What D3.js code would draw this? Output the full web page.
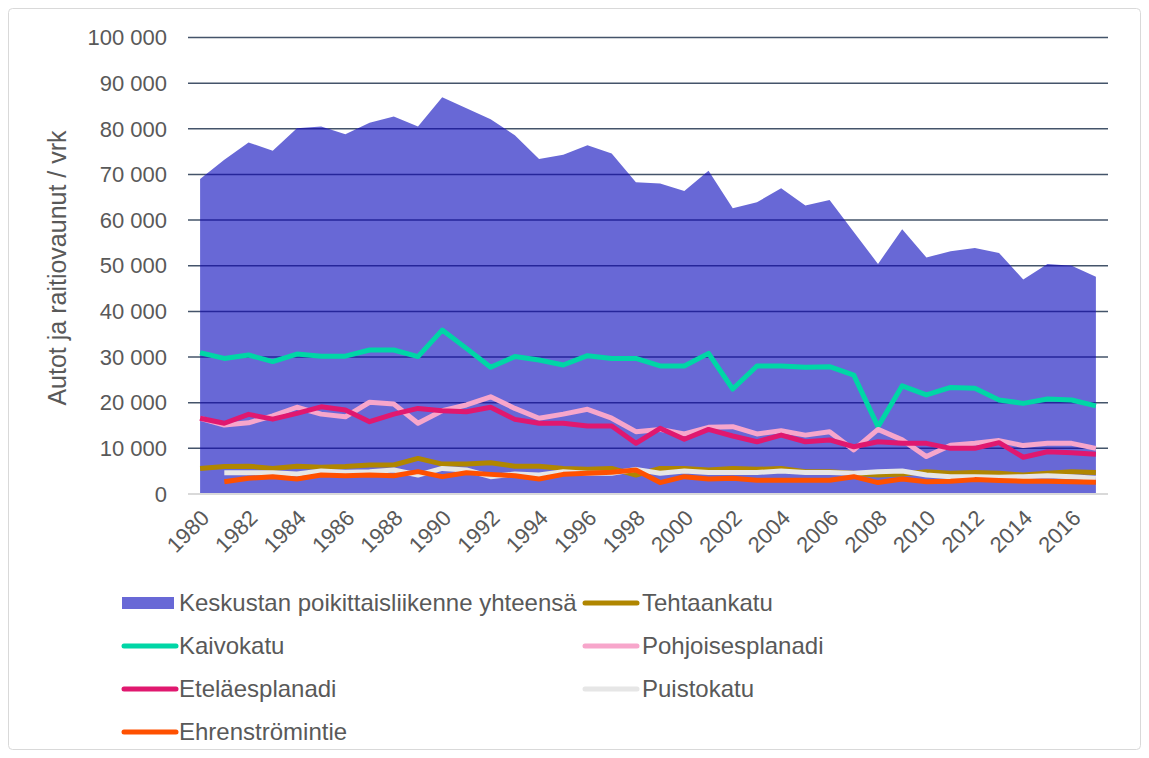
<!DOCTYPE html>
<html>
<head>
<meta charset="utf-8">
<script src="https://cdn.jsdelivr.net/npm/d3@7"></script>
<style>
  body { margin: 0; background: #fff; }
  svg { display: block; font-family: "Liberation Sans", Arial, sans-serif; }
</style>
</head>
<body>
<svg id="chart" width="1149" height="758"></svg>
<script>
// Vuodet (kategoriat)
const years = d3.range(1980, 2018);
const xTickYears = years.filter(y => y % 2 === 0);
const yTicks = [0, 10000, 20000, 30000, 40000, 50000, 60000, 70000, 80000, 90000, 100000];

// Keskustan poikittaisliikenne yhteensä (alue)
const total = [69000, 73200, 77000, 75200, 80100, 80500, 78800, 81300, 82700, 80500,
  86900, 84500, 82100, 78600, 73400, 74300, 76400, 74600, 68300, 68000,
  66400, 70800, 62600, 63900, 67000, 63200, 64400, 57400, 50400, 58000,
  51800, 53200, 53900, 52800, 47000, 50400, 50000, 47600];

const tehtaankatu = [5600, 6000, 6100, 5600, 6100, 5850, 6000, 6350, 6350, 7800,
  6550, 6550, 6850, 6100, 6100, 5600, 5400, 5600, 4150, 5600,
  5600, 5250, 5600, 5400, 5600, 4900, 4900, 4550, 4150, 4400,
  4900, 4550, 4700, 4550, 4150, 4550, 4900, 4700];

const kaivokatu = [30950, 29700, 30450, 29000, 30650, 30200, 30200, 31550, 31550, 30100,
  35900, 31900, 27750, 30100, 29350, 28250, 30300, 29700, 29700, 28050,
  28050, 30800, 23000, 28050, 28050, 27750, 27900, 26050, 14750, 23700,
  21700, 23350, 23150, 20600, 19850, 20800, 20600, 19300];

const pohjoisesplanadi = [16600, 15100, 15600, 17100, 19000, 17500, 16900, 20100, 19700, 15500,
  18250, 19500, 21300, 18750, 16600, 17500, 18550, 16600, 13650, 14150,
  13150, 14600, 14750, 13150, 13850, 12900, 13650, 9650, 14150, 11850,
  8200, 10700, 11100, 11700, 10600, 11100, 11100, 10000];

const etelaesplanadi = [16600, 15500, 17450, 16400, 17650, 19100, 18400, 15850, 17500, 18750,
  18250, 18000, 19000, 16350, 15500, 15500, 14900, 14900, 11100, 14400,
  12000, 14150, 12700, 11450, 12900, 11450, 11850, 10350, 11450, 11100,
  11100, 10000, 10000, 11250, 8050, 9250, 9050, 8700];

const puistokatu = [null, 4650, 4650, 4650, 4400, 5050, 4750, 4900, 5250, 4150,
  5600, 5250, 3800, 4400, 4150, 4900, 4550, 4550, 5400, 4550,
  5050, 4700, 4700, 4700, 5050, 4700, 4700, 4550, 4900, 5050,
  4150, 3800, 3800, 3650, 3800, 4000, 3800, 3450];

const ehrenstromintie = [null, 2700, 3450, 3800, 3300, 4150, 4000, 4150, 4000, 4900,
  3800, 4650, 4300, 4000, 3300, 4300, 4550, 4750, 5250, 2500,
  3800, 3300, 3450, 3000, 3000, 3000, 3000, 3800, 2500, 3300,
  2700, 2800, 3150, 2950, 2800, 2800, 2700, 2600];

const lines = [
  { name: "Tehtaankatu", values: tehtaankatu, color: "#b08600" },
  { name: "Kaivokatu", values: kaivokatu, color: "#00d6a6" },
  { name: "Pohjoisesplanadi", values: pohjoisesplanadi, color: "#f7a6cb" },
  { name: "Eteläesplanadi", values: etelaesplanadi, color: "#e0186f" },
  { name: "Puistokatu", values: puistokatu, color: "#e6e6e6" },
  { name: "Ehrenströmintie", values: ehrenstromintie, color: "#ff5000" }
];
const areaColor = "#6868d6";
const textColor = "#595959";

const svg = d3.select("#chart");

// ulkoreunus
svg.append("rect")
  .attr("x", 8.5).attr("y", 8.5)
  .attr("width", 1132).attr("height", 741)
  .attr("rx", 4)
  .attr("fill", "#fff")
  .attr("stroke", "#d9d9d9");

const x = d3.scalePoint().domain(years).range([188, 1108]).padding(0.5);
const y = d3.scaleLinear().domain([0, 100000]).range([494, 37.5]);

const area = d3.area()
  .x((d, i) => x(years[i]))
  .y0(y(0))
  .y1(d => y(d));

// ruudukko alueen alla
const grid = svg.append("g");
grid.selectAll("line")
  .data(yTicks.slice(1))
  .join("line")
  .attr("x1", 188).attr("x2", 1108)
  .attr("y1", d => y(d)).attr("y2", d => y(d))
  .attr("stroke", "#44546a")
  .attr("stroke-width", 1.5);

svg.append("clipPath").attr("id", "areaClip")
  .append("path").attr("d", area(total));

svg.append("path")
  .attr("d", area(total))
  .attr("fill", areaColor);

// ruudukko alueen päällä (tummempi sininen)
svg.append("g")
  .attr("clip-path", "url(#areaClip)")
  .selectAll("line")
  .data(yTicks.slice(1))
  .join("line")
  .attr("x1", 188).attr("x2", 1108)
  .attr("y1", d => y(d)).attr("y2", d => y(d))
  .attr("stroke", "#25259a")
  .attr("stroke-width", 1.5);

// x-akselin viiva
svg.append("line")
  .attr("x1", 188).attr("x2", 1108)
  .attr("y1", y(0)).attr("y2", y(0))
  .attr("stroke", "#d9d9d9")
  .attr("stroke-width", 2);

const line = d3.line()
  .defined(d => d != null)
  .x((d, i) => x(years[i]))
  .y(d => y(d));

svg.append("g")
  .selectAll("path")
  .data(lines)
  .join("path")
  .attr("d", d => line(d.values))
  .attr("fill", "none")
  .attr("stroke", d => d.color)
  .attr("stroke-width", 5)
  .attr("stroke-linejoin", "round");

// y-akselin tekstit
const fmt = v => d3.format(",")(v).replace(/,/g, " ");
svg.append("g")
  .selectAll("text")
  .data(yTicks)
  .join("text")
  .attr("x", 167)
  .attr("y", d => y(d))
  .attr("dy", "0.35em")
  .attr("text-anchor", "end")
  .attr("font-size", 22)
  .attr("fill", textColor)
  .text(fmt);

// x-akselin tekstit
svg.append("g")
  .selectAll("text")
  .data(xTickYears)
  .join("text")
  .attr("transform", d => `translate(${x(d) + 5},${514}) rotate(-45)`)
  .attr("text-anchor", "end")
  .attr("dy", "0.35em")
  .attr("font-size", 22)
  .attr("fill", textColor)
  .text(d => d);

// y-akselin otsikko
svg.append("text")
  .attr("transform", "translate(57,268) rotate(-90)")
  .attr("text-anchor", "middle")
  .attr("dy", "0.35em")
  .attr("font-size", 25)
  .attr("fill", textColor)
  .text("Autot ja raitiovaunut / vrk");

// selite
const legendItems = [{ name: "Keskustan poikittaisliikenne yhteensä", color: areaColor, isArea: true }]
  .concat(lines);
const legend = svg.append("g")
  .selectAll("g")
  .data(legendItems)
  .join("g")
  .attr("transform", (d, i) => `translate(${i % 2 === 0 ? 122 : 583},${603 + Math.floor(i / 2) * 43})`);

legend.filter(d => d.isArea).append("rect")
  .attr("x", 0).attr("y", -6)
  .attr("width", 52).attr("height", 12)
  .attr("fill", d => d.color);

legend.filter(d => !d.isArea).append("line")
  .attr("x1", 2).attr("x2", 54)
  .attr("y1", 0).attr("y2", 0)
  .attr("stroke", d => d.color)
  .attr("stroke-width", 5)
  .attr("stroke-linecap", "round");

legend.append("text")
  .attr("x", (d, i) => i % 2 === 0 ? 57 : 59)
  .attr("y", 0)
  .attr("dy", "0.35em")
  .attr("font-size", 24)
  .attr("fill", textColor)
  .text(d => d.name);
</script>
</body>
</html>
